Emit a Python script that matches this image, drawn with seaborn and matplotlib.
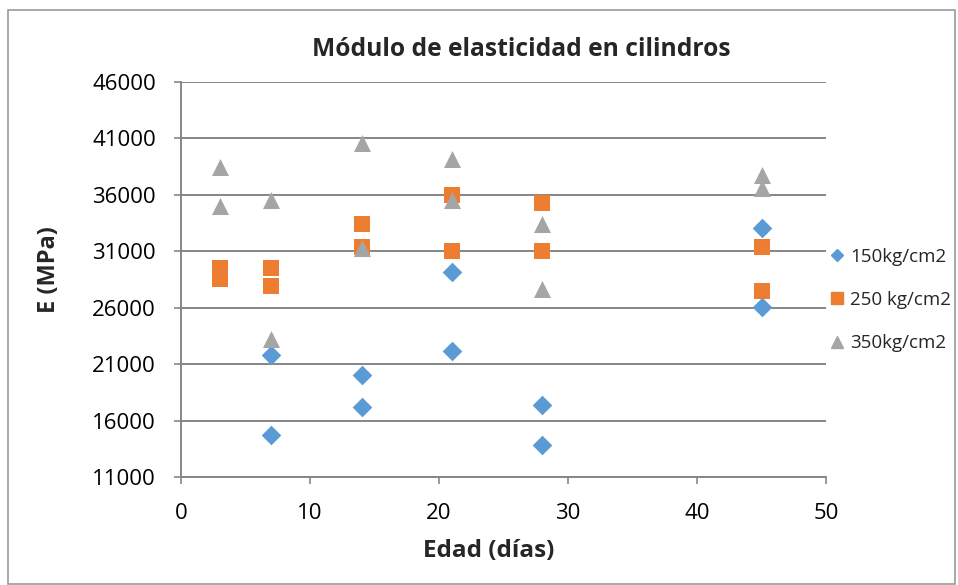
import matplotlib
matplotlib.use("Agg")
import matplotlib.pyplot as plt
import seaborn as sns
import pandas as pd
from matplotlib.patches import Rectangle
from matplotlib.lines import Line2D

# Data
x_150 = [7, 7, 14, 14, 21, 21, 28, 28, 45, 45]
y_150 = [21800, 14700, 20000, 17200, 29200, 22200, 17400, 13800, 33100, 26100]
x_250 = [3, 3, 7, 7, 14, 14, 21, 21, 28, 28, 45, 45]
y_250 = [29500, 28500, 29500, 27900, 33400, 31350, 36000, 31050, 35300, 31050, 31400, 27500]
x_350 = [3, 3, 7, 7, 14, 14, 21, 21, 28, 28, 45, 45]
y_350 = [38500, 35000, 35500, 23200, 40600, 31300, 39200, 35500, 33400, 27700, 37800, 36600]
series = ["150kg/cm2", "250 kg/cm2", "350kg/cm2"]
x_ticks = [0, 10, 20, 30, 40, 50]
y_ticks = [11000, 16000, 21000, 26000, 31000, 36000, 41000, 46000]

frames = {
    series[0]: pd.DataFrame({"x": x_150, "y": y_150}),
    series[1]: pd.DataFrame({"x": x_250, "y": y_250}),
    series[2]: pd.DataFrame({"x": x_350, "y": y_350}),
}

sns.set_theme(style="white")
plt.rcParams["font.family"] = ["Open Sans", "DejaVu Sans"]

W, H = 958, 585
fig = plt.figure(figsize=(W / 100, H / 100), dpi=100)
ax = fig.add_axes([181 / W, 1 - 477 / H, (826 - 181) / W, (477 - 82) / H])

palette = {series[0]: "#5B9BD5", series[1]: "#ED7D31", series[2]: "#A5A5A5"}
markers = {series[0]: "D", series[1]: "s", series[2]: "^"}
sizes = {series[0]: 100, series[1]: 130, series[2]: 150}
for s in series:
    sns.scatterplot(data=frames[s], x="x", y="y", color=palette[s], marker=markers[s],
                    s=sizes[s], linewidth=0, ax=ax, legend=False, zorder=3)

ax.set_xlim(0, 50)
ax.set_ylim(11000, 46000)
ax.set_xticks(x_ticks)
ax.set_yticks(y_ticks)
ax.set_xticklabels([str(v) for v in x_ticks])
ax.set_yticklabels([str(v) for v in y_ticks])
ax.tick_params(axis="both", labelsize=16, colors="#000000", length=5, width=1.2,
               direction="out", color="#868686")
ax.tick_params(axis="x", bottom=True, pad=14)
ax.tick_params(axis="y", left=True, pad=13)
ax.grid(axis="y", color="#868686", linewidth=1.4)
ax.grid(axis="x", visible=False)
ax.set_axisbelow(True)
for side in ["top", "right"]:
    ax.spines[side].set_visible(False)
for side in ["left", "bottom"]:
    ax.spines[side].set_color("#868686")
    ax.spines[side].set_linewidth(1.4)

ax.set_xlabel("")
ax.set_ylabel("")
fig.text(489 / W, 1 - 551 / H, "Edad (días)", ha="center", va="center",
         fontsize=17.5, fontweight="bold")
fig.text(48.5 / W, 1 - 270 / H, "E (MPa)", ha="center", va="center", rotation=90,
         fontsize=17, fontweight="bold")
fig.text(521 / W, 1 - 50 / H, "Módulo de elasticidad en cilindros", ha="center",
         va="center", fontsize=17.7, fontweight="bold")

# Legend
handles = [Line2D([], [], marker=markers[s], color=palette[s], linestyle="none",
                  markersize={"D": 6.5, "s": 9, "^": 8.5}[markers[s]]) for s in series]
fig.legend(handles, series, loc="center left", bbox_to_anchor=(826 / W, 1 - 300 / H),
           frameon=False, fontsize=13.5, handletextpad=0.1, labelspacing=1.35,
           handlelength=1.2, borderaxespad=0, borderpad=0)

fig.patches.append(Rectangle((8 / W, 1 - 584 / H), 947 / W, 574 / H,
                             transform=fig.transFigure, fill=False,
                             edgecolor="#9a9a9a", linewidth=1.2))

fig.savefig("out.png", dpi=100)
